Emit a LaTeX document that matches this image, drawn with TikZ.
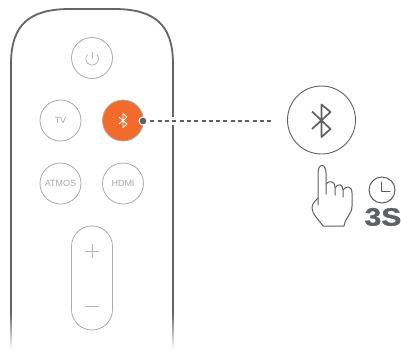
\documentclass[tikz,border=0pt]{standalone}
\usepackage{fontspec}
\setmainfont{Liberation Sans}
\usetikzlibrary{calc}
\definecolor{rim}{HTML}{666666}
\definecolor{btn}{HTML}{ABABAB}
\definecolor{lbl}{HTML}{A8A8A8}
\definecolor{orng}{HTML}{F26B2B}
\definecolor{ink}{HTML}{5F6062}
\tikzset{
 rimline/.style={draw=rim,line width=1.8pt},
 roundbtn/.style={circle,draw=btn,line width=0.8pt,minimum size=41pt,inner sep=0pt,font=\fontsize{9}{9}\selectfont,text=lbl},
 glyph/.style={draw=lbl!85,line width=0.8pt},
 inkline/.style={draw=ink,line width=1pt,line join=round,line cap=round},
}
\begin{document}
\begin{tikzpicture}[x=1pt,y=-1pt]
\useasboundingbox (0,0) rectangle (401,349);
% remote
\draw[rimline] (11,313) -- (11,64) .. controls (11,24) and (30,9) .. (70,9) -- (114,9) .. controls (154,9) and (173,24) .. (173,64) -- (173,313);
\shade[top color=rim,bottom color=white] (10.1,313) rectangle (11.9,349);
\shade[top color=rim,bottom color=white] (172.1,313) rectangle (173.9,349);
% buttons
\node[roundbtn] (power) at (92,58) {};
\node[roundbtn] (tv) at (60.5,120.5) {TV};
\node[roundbtn,fill=orng] (bt) at (123,120.5) {};
\node[roundbtn] (atmos) at (60.5,183.5) {ATMOS};
\node[roundbtn] (hdmi) at (123,183.5) {HDMI};
\draw[glyph] (92,52) -- (92,58.5);
\draw[glyph] (87.5,54.5) arc[start angle=222,end angle=-42,radius=6.3];
% bluetooth small
\draw[draw=white,line width=0.9pt,line join=round] (119,117) -- (127,124) -- (123,127.5) -- (123,113.5) -- (127,117) -- (119,124);
% volume
\node[draw=btn,line width=0.8pt,rounded corners=20.4pt,minimum width=41pt,minimum height=104pt,inner sep=0pt] (vol) at (92,278) {};
\draw[glyph] (85,251) -- (99,251) (92,244) -- (92,258);
\draw[glyph] (84.5,306) -- (99,306);
% connector
\node[circle,fill=ink,draw=white,line width=0.9pt,minimum size=8pt,inner sep=0pt] (dot) at (143,121) {};
\node[circle,draw=ink,line width=0.9pt,minimum size=68pt,inner sep=0pt] (big) at (321.5,120) {};
\coordinate (dashend) at (273,121);
\fill[white] (170,117) rectangle (176,125);
\draw[draw=ink,line width=1.1pt,dash pattern=on 4pt off 3.3pt,dash phase=-3pt] (dot) -- (dashend);
% bluetooth big
\draw[draw=ink,line width=1.7pt,line join=round] (312,111.5) -- (330.5,129) -- (321.5,137) -- (321.5,104.5) -- (330.5,112) -- (312,129);
% hand
\draw[inkline] (318,205) -- (318,173) .. controls (318,163) and (326,163) .. (326,173) -- (326,194);
\draw[inkline] (326,184) .. controls (329,180) and (335,181) .. (335,187) -- (335,195);
\draw[inkline] (335,188) .. controls (338,183) and (343,184) .. (343,190) -- (343,197);
\draw[inkline] (343,190) .. controls (346,185) and (352,186) .. (352,193) -- (352,206)
 .. controls (352,214) and (345,218) .. (344,226) -- (323,226)
 .. controls (319,220) and (312,214) .. (312,208) .. controls (312,204) and (315,201) .. (318,198);
% clock
\node[circle,draw=ink,line width=1pt,minimum size=26pt,inner sep=0pt] (clock) at (382,190) {};
\draw[inkline] (381,182) -- (381,191) -- (390,191);
\node[font=\addfontfeature{FakeBold=1.5}\bfseries\fontsize{25}{25}\selectfont,text=ink,inner sep=0pt,xscale=1.2] (dur) at (383,217) {3S};
\end{tikzpicture}
\end{document}
